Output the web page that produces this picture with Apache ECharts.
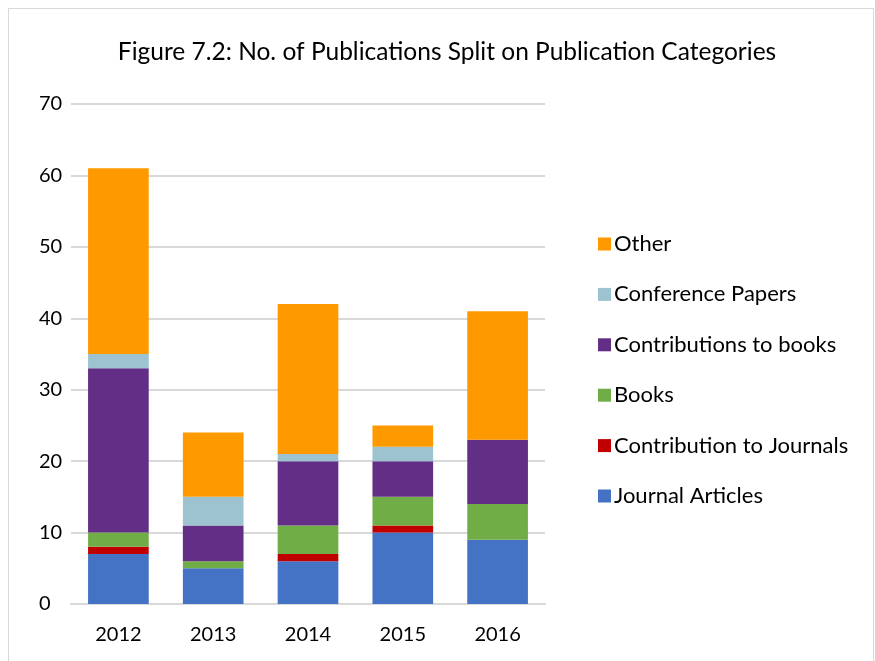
<!DOCTYPE html>
<html>
<head>
<meta charset="utf-8">
<script src="https://cdn.jsdelivr.net/npm/echarts@6/dist/echarts.min.js"></script>
<style>
  html, body { margin: 0; padding: 0; background: #fff; }
  #frame { position: absolute; left: 8px; top: 8px; width: 866px; height: 660px; border: 1px solid #d9d9d9; box-sizing: border-box; }
  #chart { position: absolute; left: 0; top: 0; width: 875px; height: 661px; }
</style>
</head>
<body>
<div id="frame"></div>
<div id="chart"></div>
<script>
// 数据
const years = ['2012', '2013', '2014', '2015', '2016']
const journalArticles = [7, 5, 6, 10, 9]
const contributionToJournals = [1, 0, 1, 1, 0]
const books = [2, 1, 4, 4, 5]
const contributionsToBooks = [23, 5, 9, 5, 9]
const conferencePapers = [2, 4, 1, 2, 0]
const other = [26, 9, 21, 3, 18]

const seriesDefs = [
    { name: 'Journal Articles', data: journalArticles, color: '#4472C4' },
    { name: 'Contribution to Journals', data: contributionToJournals, color: '#C00000' },
    { name: 'Books', data: books, color: '#70AD47' },
    { name: 'Contributions to books', data: contributionsToBooks, color: '#632E85' },
    { name: 'Conference Papers', data: conferencePapers, color: '#9DC3D0' },
    { name: 'Other', data: other, color: '#FF9900' }
]

const font = 'Lato, "Open Sans", sans-serif'
const myChart = echarts.init(document.getElementById('chart'))
const option = {
    animation: false,
    title: {
        text: 'Figure 7.2: No. of Publications Split on Publication Categories',
        left: 442,
        top: 35,
        textAlign: 'center',
        textStyle: { fontFamily: font, fontSize: 24.5, fontWeight: 'normal', color: '#000' }
    },
    legend: {
        orient: 'vertical',
        left: 593,
        top: 228,
        itemWidth: 13,
        itemHeight: 13,
        itemGap: 28.4,
        icon: 'rect',
        textStyle: { fontFamily: font, fontSize: 22, color: '#000', padding: [0, 0, 0, -2] },
        data: seriesDefs.map(s => s.name).reverse()
    },
    grid: { left: 71, right: 330, top: 104, bottom: 57 },
    xAxis: {
        type: 'category',
        data: years,
        axisLine: { lineStyle: { color: '#d9d9d9', width: 2 } },
        axisTick: { show: false },
        axisLabel: { fontFamily: font, fontSize: 20, color: '#000', margin: 21 }
    },
    yAxis: {
        type: 'value',
        min: 0,
        max: 70,
        interval: 10,
        axisLine: { show: false },
        axisTick: { show: false },
        splitLine: { lineStyle: { color: '#d9d9d9', width: 2 } },
        axisLabel: { fontFamily: font, fontSize: 20, color: '#000', margin: 32, align: 'left' }
    },
    series: seriesDefs.map(s => ({
        name: s.name,
        type: 'bar',
        stack: 'total',
        barWidth: '64%',
        data: s.data,
        itemStyle: { color: s.color }
    }))
}
myChart.setOption(option)
</script>
</body>
</html>
